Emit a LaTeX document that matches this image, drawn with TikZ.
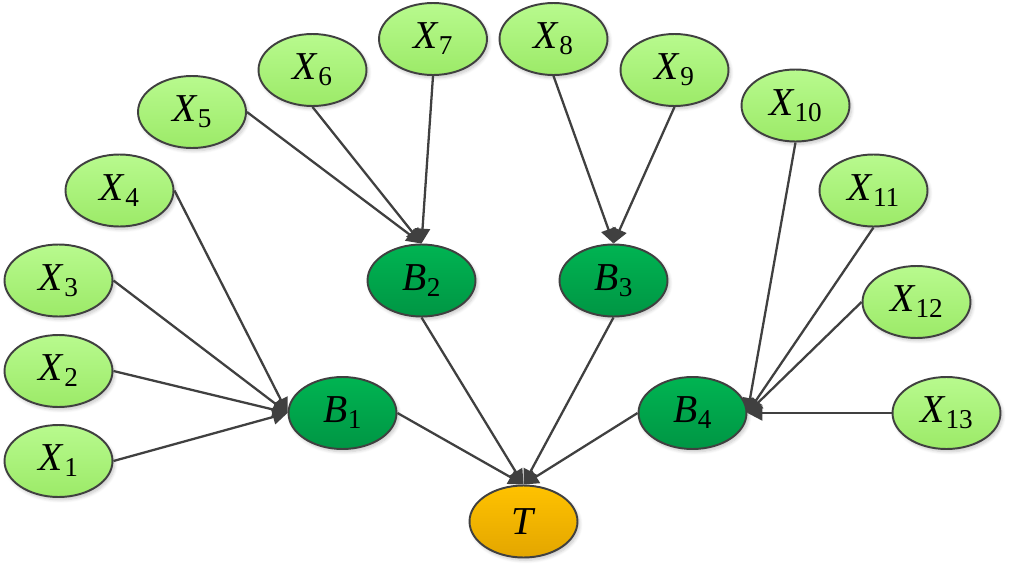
\documentclass[tikz,border=0pt]{standalone}
\usepackage{fontspec}
\setmainfont{Liberation Serif}
\usetikzlibrary{shapes.geometric,arrows.meta,shadows.blur}
\definecolor{edgec}{HTML}{404040}
\definecolor{lgtop}{HTML}{B8FA8E}
\definecolor{lgbot}{HTML}{9CEA68}
\definecolor{dgtop}{HTML}{00B452}
\definecolor{dgbot}{HTML}{009644}
\definecolor{ortop}{HTML}{FFC200}
\definecolor{orbot}{HTML}{E3A600}
\newcommand{\lbl}[2]{\textit{#1}\raisebox{-3.4pt}{\fontsize{15.5}{15.5}\selectfont #2}}
\tikzset{
  nodebase/.style={ellipse, draw=edgec, line width=1.1pt, minimum width=2.16cm, minimum height=1.44cm, inner sep=0pt,
    font=\fontsize{22.5}{22.5}\selectfont,
    blur shadow={shadow blur steps=6, shadow xshift=1.2pt, shadow yshift=-1.6pt, shadow opacity=22}},
  xnode/.style={nodebase, top color=lgtop, bottom color=lgbot},
  bnode/.style={nodebase, top color=dgtop, bottom color=dgbot},
  tnode/.style={nodebase, top color=ortop, bottom color=orbot},
  link/.style={draw=edgec, line width=1.3pt, -{Triangle[length=8.5pt,width=8.5pt]}}
}
\begin{document}
\begin{tikzpicture}[x=0.02cm,y=-0.02cm]
\useasboundingbox (0,0) rectangle (1012,565);
% X nodes
\node[xnode] (X1) at (58.5,461) {\lbl{X}{1}};
\node[xnode] (X2) at (58.5,371) {\lbl{X}{2}};
\node[xnode] (X3) at (58.5,280.5) {\lbl{X}{3}};
\node[xnode] (X4) at (119.5,190.5) {\lbl{X}{4}};
\node[xnode] (X5) at (192,112) {\lbl{X}{5}};
\node[xnode] (X6) at (312.5,70) {\lbl{X}{6}};
\node[xnode] (X7) at (433,39) {\lbl{X}{7}};
\node[xnode] (X8) at (553.5,39) {\lbl{X}{8}};
\node[xnode] (X9) at (674.5,70) {\lbl{X}{9}};
\node[xnode] (X10) at (795.5,105.5) {\lbl{X}{10}};
\node[xnode] (X11) at (873.5,190.5) {\lbl{X}{11}};
\node[xnode] (X12) at (916.5,302) {\lbl{X}{12}};
\node[xnode] (X13) at (946.5,413) {\lbl{X}{13}};
% B nodes
\node[bnode] (B1) at (342.5,413) {\lbl{B}{1}};
\node[bnode] (B2) at (421.5,280.5) {\lbl{B}{2}};
\node[bnode] (B3) at (613.5,280.5) {\lbl{B}{3}};
\node[bnode] (B4) at (692.5,413) {\lbl{B}{4}};
% T
\node[tnode] (T) at (523.5,521.5) {\textit{T}};
% edges
\draw[link] (X1.east) -- (B1.west);
\draw[link] (X2.east) -- (B1.west);
\draw[link] (X3.east) -- (B1.west);
\draw[link] (X4.east) -- (B1.west);
\draw[link] (X5.east) -- (B2.north);
\draw[link] (X6.south) -- (B2.north);
\draw[link] (X7.south) -- (B2.north);
\draw[link] (X8.south) -- (B3.north);
\draw[link] (X9.south) -- (B3.north);
\draw[link] (X10.south) -- (B4.east);
\draw[link] (X11.south) -- (B4.east);
\draw[link] (X12.west) -- (B4.east);
\draw[link] (X13.west) -- (B4.east);
\draw[link] (B1.east) -- (T.north);
\draw[link] (B2.south) -- (T.north);
\draw[link] (B3.south) -- (T.north);
\draw[link] (B4.west) -- (T.north);
\end{tikzpicture}
\end{document}
